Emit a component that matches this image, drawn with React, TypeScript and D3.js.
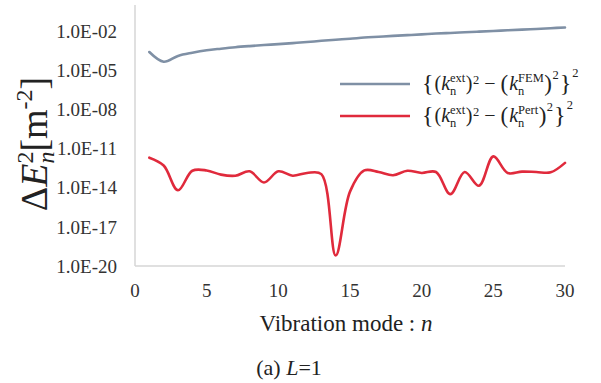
import React from "react";
import * as d3 from "d3";

const modes = d3.range(1, 31);
const femError = [
  2.5e-4, 4.5e-5, 1.26e-4, 2.2e-4, 3.4e-4, 4.5e-4, 5.8e-4, 7.1e-4, 8.5e-4, 1.0e-3,
  1.2e-3, 1.45e-3, 1.8e-3, 2.2e-3, 2.6e-3, 3.2e-3, 3.7e-3, 4.3e-3, 4.9e-3, 5.6e-3,
  6.5e-3, 7.2e-3, 8.1e-3, 9.1e-3, 1.02e-2, 1.15e-2, 1.29e-2, 1.45e-2, 1.66e-2, 1.9e-2,
];
const pertError = [
  2e-12, 5e-13, 6.3e-15, 2e-13, 2.1e-13, 1e-13, 8.3e-14, 1.8e-13, 2.5e-14, 1.8e-13,
  8.3e-14, 1.35e-13, 1.1e-13, 6.3e-20, 5e-15, 2.1e-13, 1.6e-13, 9e-14, 2e-13, 1.35e-13,
  1.6e-13, 3.2e-15, 1.6e-13, 1.4e-14, 2.5e-12, 1.35e-13, 1.7e-13, 1.6e-13, 1.5e-13, 8e-13,
];
const xTicks = [0, 5, 10, 15, 20, 25, 30];
const yTickExps = [-20, -17, -14, -11, -8, -5, -2];
const seriesColors = ["#7f90a5", "#e02a3c"];
const seriesSupers = ["FEM", "Pert"];

const W = 601;
const H = 383;
const serif = "Liberation Serif, Tinos, Times New Roman, DejaVu Serif, serif";

// approximate Times advance widths (em)
const charW: Record<string, number> = {
  "{": 0.48, "}": 0.48, "(": 0.333, ")": 0.333, k: 0.444, n: 0.5, e: 0.444, x: 0.5,
  t: 0.278, "2": 0.5, "−": 0.564, F: 0.556, E: 0.611, M: 0.889, P: 0.556, r: 0.333,
};
const textW = (s: string, fs: number) =>
  s.split("").reduce((a, c) => a + (charW[c] ?? 0.5) * fs, 0);

function fmtExp(e: number) {
  const a = Math.abs(e);
  return "1.0E" + (e < 0 ? "-" : "+") + (a < 10 ? "0" + a : String(a));
}

type Piece = { t: string; fs: number; dy: number; italic?: boolean; gap?: number };

function Formula({ x, y, sup }: { x: number; y: number; sup: string }) {
  const fs = 20;
  const ss = 12.5;
  const items: { t: string; x: number; y: number; fs: number; italic?: boolean }[] = [];
  let cx = x;
  const put = (p: Piece) => {
    cx += p.gap ?? 0;
    items.push({ t: p.t, x: cx, y: y + p.dy, fs: p.fs, italic: p.italic });
    cx += textW(p.t, p.fs);
  };
  const stack = (upper: string) => {
    items.push({ t: "n", x: cx, y: y + 5, fs: ss });
    items.push({ t: upper, x: cx, y: y - 8, fs: ss });
    cx += Math.max(textW("n", ss), textW(upper, ss)) + 0.5;
  };
  put({ t: "{", fs: 24, dy: 1 });
  put({ t: "(", fs, dy: 0, gap: 1 });
  put({ t: "k", fs, dy: 0, italic: true });
  stack("ext");
  put({ t: ")", fs, dy: 0 });
  put({ t: "2", fs: ss, dy: -6, gap: 0.5 });
  put({ t: "−", fs, dy: 0, gap: 5 });
  put({ t: "(", fs: 23, dy: 1, gap: 5 });
  put({ t: "k", fs, dy: 0, italic: true, gap: 1 });
  stack(sup);
  put({ t: ")", fs: 23, dy: 1 });
  put({ t: "2", fs: ss, dy: -11, gap: 0.5 });
  put({ t: "}", fs: 24, dy: 1, gap: 1 });
  put({ t: "2", fs: ss, dy: -13, gap: 1 });
  return (
    <g>
      {items.map((it, i) => (
        <text
          key={i}
          x={it.x}
          y={it.y}
          fontSize={it.fs}
          fontStyle={it.italic ? "italic" : "normal"}
          style={{ fontFamily: serif }}
          fill="#222"
        >
          {it.t}
        </text>
      ))}
    </g>
  );
}

export default function App() {
  const m = { left: 135, right: 565, top: 5, bottom: 266 };
  const x = d3.scaleLinear().domain([0, 30]).range([m.left, m.right]);
  const y = d3.scaleLog().domain([1e-20, 1]).range([m.bottom, m.top]);
  const line = d3
    .line<number>()
    .x((_, i) => x(modes[i]))
    .y((v) => y(v))
    .curve(d3.curveCatmullRom.alpha(0.5));

  const series = [femError, pertError];

  return (
    <svg
      width={W}
      height={H}
      style={{ position: "absolute", left: 0, top: 0, background: "#fff", fontFamily: serif }}
    >
      <rect width={W} height={H} fill="#fff" />
      <line x1={m.left} x2={m.left} y1={m.top} y2={m.bottom} stroke="#d6d6d6" strokeWidth={1.5} />
      <line x1={m.left} x2={m.right} y1={m.bottom} y2={m.bottom} stroke="#d6d6d6" strokeWidth={1.5} />

      {yTickExps.map((e) => (
        <text
          key={e}
          x={117}
          y={y(Math.pow(10, e))}
          dy="0.35em"
          textAnchor="end"
          style={{ fontFamily: serif }}
          fontSize={19}
          fill="#333"
        >
          {fmtExp(e)}
        </text>
      ))}
      {xTicks.map((t) => (
        <text
          key={t}
          x={x(t)}
          y={297}
          textAnchor="middle"
          style={{ fontFamily: serif }}
          fontSize={19}
          fill="#333"
        >
          {t}
        </text>
      ))}

      {series.map((s, i) => (
        <path
          key={i}
          d={line(s) || ""}
          fill="none"
          stroke={seriesColors[i]}
          strokeWidth={2.6}
          strokeLinejoin="round"
          strokeLinecap="round"
        />
      ))}

      {seriesColors.map((c, i) => (
        <g key={c}>
          <line x1={340} x2={410} y1={84 + i * 32} y2={84 + i * 32} stroke={c} strokeWidth={2.6} />
          <Formula x={422} y={90 + i * 32} sup={seriesSupers[i]} />
        </g>
      ))}

      <text x={346} y={331} textAnchor="middle" style={{ fontFamily: serif }} fontSize={23} fill="#222">
        Vibration mode : <tspan fontStyle="italic">n</tspan>
      </text>
      <text x={289} y={375} textAnchor="middle" style={{ fontFamily: serif }} fontSize={22} fill="#222">
        (a) <tspan fontStyle="italic">L</tspan>=1
      </text>

      <text
        transform="translate(47,144) rotate(-90)"
        textAnchor="middle"
        style={{ fontFamily: serif }}
        fontSize={38}
        fill="#222"
      >
        Δ<tspan fontStyle="italic">E</tspan>
        <tspan fontSize={24} fontStyle="italic" dy={7}>n</tspan>
        <tspan fontSize={24} dx={-12} dy={-21}>2</tspan>
        <tspan dy={14}>[m</tspan>
        <tspan fontSize={24} dy={-15}>-2</tspan>
        <tspan dy={15}>]</tspan>
      </text>
    </svg>
  );
}
